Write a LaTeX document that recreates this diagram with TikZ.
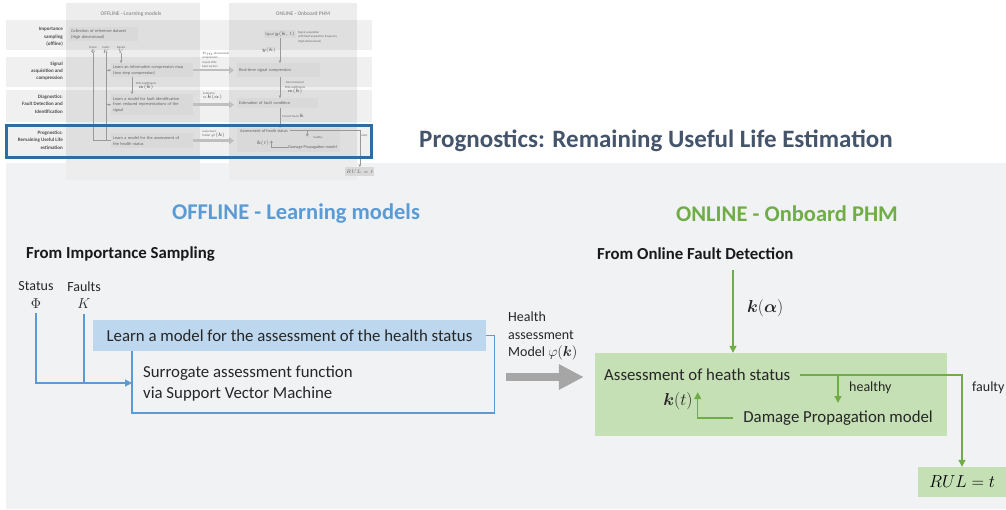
\documentclass[tikz,border=0pt]{standalone}
\usepackage{fontspec}
\setmainfont{Carlito}
\usepackage{amsmath, amssymb, bm}
\usetikzlibrary{arrows.meta}

\definecolor{titlegray}{HTML}{44546A}
\definecolor{panelgray}{HTML}{F1F2F4}
\definecolor{offblue}{HTML}{5B9BD5}
\definecolor{lightblue}{HTML}{BDD7EE}
\definecolor{ongreen}{HTML}{70AD47}
\definecolor{lightgreen}{HTML}{C5E0B4}
\definecolor{arrowgray}{HTML}{A6A6A6}
\definecolor{frameblue}{HTML}{2E6CA4}

\tikzset{
  lbl/.style={font=\fontsize{16.8}{21}\selectfont, text=black!85, align=left, inner sep=0pt},
  small/.style={font=\fontsize{14}{17.5}\selectfont, text=black!85, align=left, inner sep=0pt},
  head/.style={font=\fontsize{22.5}{26}\selectfont\bfseries, inner sep=0pt},
  sub/.style={font=\fontsize{16.8}{20}\selectfont\bfseries, text=black!90, inner sep=0pt},
  learnbox/.style={fill=lightblue, minimum width=393pt, minimum height=31pt, inner sep=0pt,
    font=\fontsize{16.8}{20}\selectfont, text=black!85},
  greenbox/.style={fill=lightgreen, minimum width=352pt, minimum height=83pt},
  rulbox/.style={fill=lightgreen, minimum width=88pt, minimum height=30pt,
    font=\fontsize{16}{19}\selectfont},
  blueline/.style={offblue, line width=1.3pt},
  greenline/.style={ongreen, line width=1.3pt},
  arr/.style={-{Triangle[length=7pt,width=7pt]}},
  bigarrow/.style={arrowgray, line width=8pt, -{Triangle[length=25pt,width=24pt]}},
  % thumbnail of the whole chart
  tbox/.style={fill=black!15, anchor=north west, inner sep=2pt, align=left,
    font=\fontsize{4.3}{5.8}\selectfont, text=black!60},
  trow/.style={font=\fontsize{5}{7.3}\selectfont\bfseries, text=black!70, align=right,
    anchor=east, inner sep=0pt},
  ttiny/.style={font=\fontsize{3}{4.5}\selectfont, text=black!60, align=left, inner sep=0pt},
  tline/.style={black!40, line width=0.5pt},
  tarr/.style={-{Triangle[length=2.5pt,width=2.5pt]}},
  tbig/.style={black!25, line width=2.5pt, -{Triangle[length=5pt,width=7pt]}, shorten >=3pt}
}

\begin{document}
\begin{tikzpicture}[x=1pt, y=-1pt]
  \useasboundingbox (0,0) rectangle (1006,509);
  \fill[panelgray] (6,163) rectangle (1006,509);

  % thumbnail
  \fill[black!7] (66,3) rectangle (200,180);
  \fill[black!7] (229,3) rectangle (357,180);
  \foreach \ya/\yb in {20/50, 57/87, 90/122, 125/157}
    \fill[black, opacity=0.06] (6,\ya) rectangle (372,\yb);
  \node[font=\fontsize{5.5}{7}\selectfont\bfseries, text=black!40] (toff) at (131,14) {OFFLINE - Learning models};
  \node[font=\fontsize{5.5}{7}\selectfont\bfseries, text=black!40] (ton) at (303,14) {ONLINE - Onboard PHM};
  \node[trow] (trow1) at (63,37) {Importance\\sampling\\(offline)};
  \node[trow] (trow2) at (63,71) {Signal\\acquisition and\\compression};
  \node[trow] (trow3) at (63,104) {Diagnostics:\\Fault Detection and\\Identification};
  \node[trow] (trow4) at (63,140) {Prognostics:\\Remaining Useful Life\\estimation};

  \node[tbox, text width=65pt, minimum height=14pt] (tcoll) at (69,27) {Collection of reference dataset\\(High dimensional)};
  \node[tbox, text width=78pt, minimum height=14pt] (tcomp) at (111,63) {Learn an informative compression map\\(two step compression)};
  \node[tbox, text width=78pt, minimum height=21pt] (tfault) at (111,94) {Learn a model for fault identification\\from reduced representations of the\\signal};
  \node[tbox, text width=78pt, minimum height=15pt] (thealth) at (111,133) {Learn a model for the assessment of\\the health status};
  \node[ttiny, align=center] (tstat) at (93,50) {Status\\$\Phi$};
  \node[ttiny, align=center] (tfaults) at (106,50) {Faults\\$K$};
  \node[ttiny, align=center] (tsignals) at (121,50) {Signals\\$Y$};
  \draw[tline] (tstat.south) |- (thealth.west);
  \draw[tline] (tfaults.south) -- (tfaults.south |- thealth.west);
  \draw[tline, tarr] (tfaults.south |- tcomp.west) -- (tcomp.west);
  \draw[tline, tarr] (tfaults.south |- tfault.west) -- (tfault.west);
  \draw[tline, tarr] (tsignals.south) -- (tsignals.south |- tcomp.north);
  \draw[tline, tarr] (132,77) -- (132,77 |- tfault.north);
  \node[ttiny, align=center] (tpod) at (146,86) {POD coefficients\\$\bm{\alpha}(\bm{k})$};

  \node[tbox, minimum width=29pt, minimum height=8pt, inner sep=1pt, font=\fontsize{3.6}{5}\selectfont] (tsig) at (264,30) {Signal $\bm{y}(\bm{k},t)$};
  \node[ttiny, anchor=west] (tacq) at (298,37) {Signal acquisition\\with fixed acquisition frequency\\(High dimensional)};
  \node[tbox, text width=79pt, minimum height=14pt] (trt) at (237,63) {Real-time signal compression};
  \node[tbox, text width=77pt, minimum height=10pt] (test) at (237,98) {Estimation of fault condition};
  \node[tbox, text width=99pt, minimum height=24pt] (tass) at (237,128) {};
  \node[tbox, fill=none, inner sep=0pt] (tasst) at (240,129) {Assessment of heath status};
  \node[ttiny, anchor=center] (tkt) at (263,143) {$\bm{k}(t)$};
  \node[ttiny, anchor=east, font=\fontsize{4.3}{5.8}\selectfont] (tdam) at (337,147) {Damage Propagation model};
  \node[ttiny] (thealthy) at (318,138) {healthy};
  \node[ttiny] (tfaulty) at (364,136) {faulty};
  \node[tbox, minimum width=23pt, minimum height=9pt, inner sep=1pt, align=center] (trul) at (345,167) {$RUL = t$};
  \draw[tline, tarr] (tsig.south) -- (tsig.south |- trt.north);
  \draw[tline, tarr] (tsig.south |- trt.south) -- (tsig.south |- test.north);
  \draw[tline, tarr] (tsig.south |- test.south) -- (tsig.south |- tass.north);
  \node[ttiny, anchor=east] (ty) at (276,50) {$\bm{y}(\bm{k})$};
  \node[ttiny, align=center] (trec) at (295,88) {Reconstructed\\POD coefficients\\$\bm{\alpha}(\bm{k})$};
  \node[ttiny] (tcur) at (293,116) {Current faults $\bm{k}$};
  \draw[tline, tarr] ([xshift=2pt]tasst.east) -| (trul.north);
  \draw[tline, tarr] ([xshift=-6pt]thealthy.west |- tasst.east) -- ++(0,6);
  \draw[tline, tarr] (tdam.west) -| ([xshift=2pt]tkt.north east);
  \draw[tbig] (tcomp.east) -- (trt.west);
  \draw[tbig] (tfault.east) -- (test.west |- tfault.east);
  \draw[tbig] (thealth.east) -- (tass.west |- thealth.east);
  \node[ttiny, anchor=west] (tnm) at (202,60) {$n_m$-dimensional\\compression\\map \& POD\\basis vectors};
  \node[ttiny, anchor=west] (tes) at (203,96) {Estimator\\for $\bm{k}(\bm{\alpha})$};
  \node[ttiny, anchor=west] (thm) at (202,132) {Health\\assessment\\Model $\varphi(\bm{k})$};
  \draw[frameblue, line width=3pt] (6,125) rectangle (371,157);

  % titles
  \node[font=\fontsize{25}{30}\selectfont\bfseries, text=titlegray, inner sep=0pt] (title) at (656,141) {Prognostics: Remaining Useful Life Estimation};
  \node[head, text=offblue] (offtitle) at (296,214) {OFFLINE - Learning models};
  \node[head, text=ongreen] (ontitle) at (787,214) {ONLINE - Onboard PHM};
  \node[sub, anchor=west] (fromis) at (26,254) {From Importance Sampling};
  \node[sub, anchor=west] (fromofd) at (597,254) {From Online Fault Detection};

  % offline part
  \node[small, align=center] (status) at (36,295) {Status\\$\Phi$};
  \node[small, align=center] (faults) at (84,295) {Faults\\$K$};
  \node[learnbox] (learn) at (289.5,335.5) {Learn a model for the assessment of the health status};
  \node[lbl, anchor=west] (surr) at (143,384) {Surrogate assessment function\\via Support Vector Machine};
  \draw[blueline] (learn.east) -- ++(8,0) coordinate (fr) |- (132,413) coordinate (frsw) -- (frsw |- learn.south);
  \coordinate (surrin) at (132,383);
  \draw[blueline, arr] ([yshift=-5pt]status.south) |- (surrin);
  \draw[blueline] ([yshift=-5pt]faults.south) -- (faults.south |- surrin);

  \node[small, anchor=west] (hlabel) at (508,336) {Health\\assessment\\Model $\varphi(\bm{k})$};

  % online part
  \node[greenbox] (assess) at (771,394.5) {};
  \draw[bigarrow] (fr |- 0,377) ++(12,0) -- ([xshift=-11pt]assess.west |- 0,377);
  \node[lbl, anchor=west] (asstxt) at (604,375) {Assessment of heath status};
  \node[lbl, anchor=east] (damage) at (933,418) {Damage Propagation model};
  \node[lbl] (kt) at (678,401) {$\bm{k}(t)$};
  \node[small, anchor=west] (healthy) at (849,388) {healthy};
  \node[small, anchor=west] (faulty) at (972,388) {faulty};
  \node[rulbox] (rul) at (962,482) {$RUL = t$};

  \coordinate (kin) at (733,270);
  \draw[greenline, arr] (kin) -- (kin |- assess.north);
  \node[lbl, anchor=west] (kalpha) at (747,308) {$\bm{k}(\bm{\alpha})$};
  \draw[greenline, arr] ([xshift=10pt]asstxt.east) -| (rul.north);
  \draw[greenline, arr] ([xshift=-11pt]healthy.west |- asstxt.east) -- ++(0,28);
  \draw[greenline, arr] ([xshift=-10pt]damage.west) -| ([xshift=5pt]kt.north east);
\end{tikzpicture}
\end{document}
